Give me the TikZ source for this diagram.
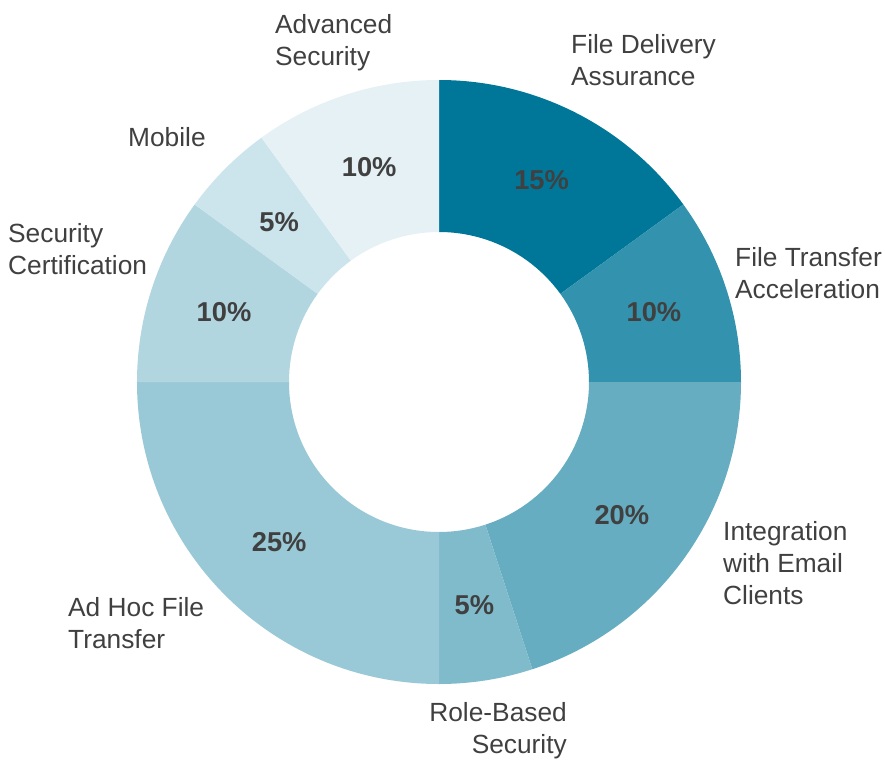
\documentclass[tikz,border=0pt]{standalone}
\usepackage{fontspec}
\setmainfont{Liberation Sans}
\definecolor{base}{HTML}{007799}
\definecolor{txt}{HTML}{404040}
\tikzset{
  lbl/.style={text=txt, inner sep=0pt, font=\fontsize{26.3}{32}\selectfont},
  pct/.style={text=txt, inner sep=0pt, font=\fontsize{27.3}{32}\selectfont\bfseries},
}
\newcommand{\seg}[3]{%
  \fill[#3] (#1:150pt) arc[start angle=#1, end angle=#2, radius=150pt]
    -- (#2:302pt) arc[start angle=#2, end angle=#1, radius=302pt] -- cycle;}
\begin{document}
\begin{tikzpicture}[x=1pt,y=1pt]
\useasboundingbox (-439,-382) rectangle (446,382);
\seg{90}{36}{base}
\seg{36}{0}{base!80!white}
\seg{0}{-72}{base!60!white}
\seg{-72}{-90}{base!50!white}
\seg{-90}{-180}{base!40!white}
\seg{-180}{-216}{base!30!white}
\seg{-216}{-234}{base!20!white}
\seg{-234}{-270}{base!10!white}
% percentages
\node[pct] (p1) at (63:226pt) {15\%};
\node[pct] (p2) at (18:226pt) {10\%};
\node[pct] (p3) at (-36:226pt) {20\%};
\node[pct] (p4) at (-81:226pt) {5\%};
\node[pct] (p5) at (-135:226pt) {25\%};
\node[pct] (p6) at (-198:226pt) {10\%};
\node[pct] (p7) at (-225:226pt) {5\%};
\node[pct] (p8) at (-252:226pt) {10\%};
% category labels
\node[lbl, anchor=west, align=left] (l1) at (132,322) {File Delivery\\Assurance};
\node[lbl, anchor=west, align=left] (l2) at (296,108.5) {File Transfer\\Acceleration};
\node[lbl, anchor=west, align=left] (l3) at (284,-181.5) {Integration\\with Email\\Clients};
\node[lbl, anchor=east, align=right] (l4) at (128,-349) {Role-Based\\Security};
\node[lbl, anchor=west, align=left] (l5) at (-371,-241) {Ad Hoc File\\Transfer};
\node[lbl, anchor=west, align=left] (l6) at (-431,132.5) {Security\\Certification};
\node[lbl, anchor=west, align=left] (l7) at (-311,244.5) {Mobile};
\node[lbl, anchor=west, align=left] (l8) at (-164,339) {Advanced\\Security};
\end{tikzpicture}
\end{document}
